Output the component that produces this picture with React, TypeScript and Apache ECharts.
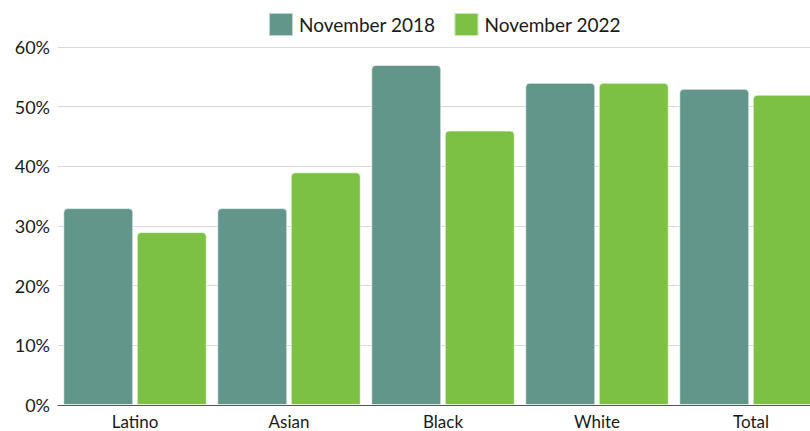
import React, { useEffect, useRef } from "react";
import * as echarts from "echarts";

const categories = ["Latino", "Asian", "Black", "White", "Total"];
const nov2018 = [33, 33, 57, 54, 53];
const nov2022 = [29, 39, 46, 54, 52];
const seriesNames = ["November 2018", "November 2022"];

const FONT = "Lato, 'Open Sans', sans-serif";

export default function App() {
  const ref = useRef<HTMLDivElement>(null);
  useEffect(() => {
    if (!ref.current) return;
    const chart = echarts.init(ref.current, null, { renderer: "svg" });
    chart.setOption({
      animation: false,
      textStyle: { fontFamily: FONT },
      legend: {
        top: 12,
        left: 268,
        padding: 0,
        icon: "rect",
        itemWidth: 24,
        itemHeight: 23,
        itemGap: 18,
        textStyle: { fontSize: 19, color: "#1a1a1a", fontFamily: FONT, padding: [0, 0, 0, 1] },
        data: seriesNames,
      },
      grid: { left: 58, top: 47, width: 770, height: 358, containLabel: false, outerBoundsMode: "none" },
      xAxis: {
        type: "category",
        data: categories,
        axisTick: { show: false },
        axisLine: { show: true, lineStyle: { color: "#555", width: 1 } },
        axisLabel: { fontSize: 17, color: "#1a1a1a", margin: 8, fontFamily: FONT },
      },
      yAxis: {
        type: "value",
        min: 0,
        max: 60,
        interval: 10,
        axisLine: { show: false },
        axisTick: { show: false },
        splitLine: { lineStyle: { color: "#d9d9d9", width: 1 } },
        axisLabel: { fontSize: 18, color: "#1a1a1a", margin: 8, formatter: "{value}%", fontFamily: FONT },
      },
      series: [
        {
          name: seriesNames[0],
          type: "bar",
          data: nov2018,
          barWidth: 70,
          barGap: "5%",
          itemStyle: { color: "#62968b", borderRadius: [4, 4, 0, 0], borderColor: "rgba(255,255,255,0.6)", borderWidth: 1 },
        },
        {
          name: seriesNames[1],
          type: "bar",
          data: nov2022,
          barWidth: 70,
          itemStyle: { color: "#7cc144", borderRadius: [4, 4, 0, 0], borderColor: "rgba(255,255,255,0.6)", borderWidth: 1 },
        },
      ],
    });
    return () => chart.dispose();
  }, []);
  return <div ref={ref} style={{ width: 810, height: 431, position: "absolute", left: 0, top: 0, overflow: "hidden" }} />;
}
